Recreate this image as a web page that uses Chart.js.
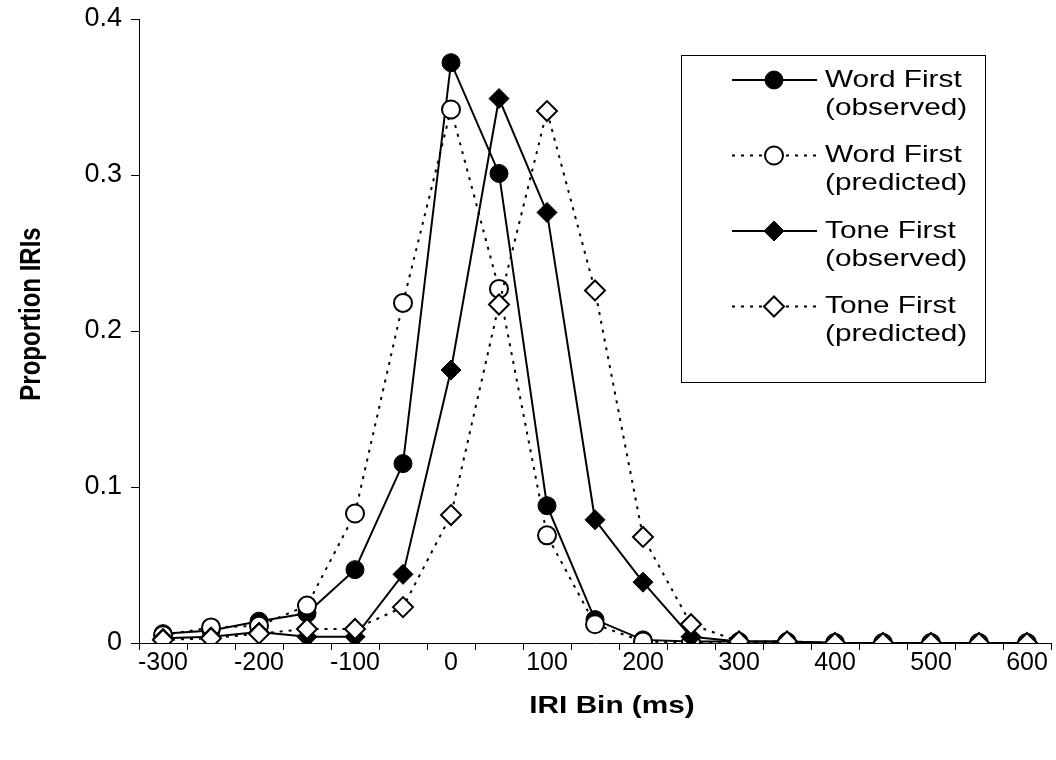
<!DOCTYPE html>
<html>
<head>
<meta charset="utf-8">
<title>IRI Bin distribution</title>
<script src="https://cdn.jsdelivr.net/npm/chart.js@4.4.1/dist/chart.umd.min.js"></script>
<style>
    html, body { margin: 0; padding: 0; background: #fff; }
    canvas { display: block; }
</style>
</head>
<body>
<canvas id="iriChart" width="1056" height="760"></canvas>
<script>
// IRI bins (ms)
const bins = ['-300', '-250', '-200', '-150', '-100', '-50', '0', '50', '100', '150',
              '200', '250', '300', '350', '400', '450', '500', '550', '600'];

const wordFirstObserved  = [0.006, 0.008, 0.014, 0.019, 0.047, 0.115, 0.372, 0.301, 0.088, 0.015,
                            0.002, 0.001, 0.001, 0.001, 0, 0, 0, 0, 0];
const wordFirstPredicted = [0.005, 0.010, 0.011, 0.024, 0.083, 0.218, 0.342, 0.227, 0.069, 0.012,
                            0.001, 0, 0, 0, 0, 0, 0, 0, 0];
const toneFirstObserved  = [0.003, 0.004, 0.007, 0.004, 0.004, 0.044, 0.175, 0.349, 0.276, 0.079,
                            0.039, 0.004, 0.001, 0.001, 0, 0, 0, 0, 0];
const toneFirstPredicted = [0.002, 0.003, 0.006, 0.009, 0.009, 0.023, 0.082, 0.217, 0.341, 0.226,
                            0.068, 0.012, 0.001, 0.001, 0, 0, 0, 0, 0];

const yTicks = [0, 0.1, 0.2, 0.3, 0.4];

const xTitle = 'IRI Bin (ms)';
const yTitle = 'Proportion IRIs';

const FONT = "'Liberation Sans', Arial, sans-serif";
const DOT = [3, 6];
const STRETCH = 1.24; // text in the original is drawn a bit wide

function series(label, data, opts) {
    return Object.assign({
        label,
        data,
        borderColor: '#000',
        borderWidth: 2,
        pointBorderColor: '#000',
        pointBorderWidth: 2,
        pointHoverRadius: 9,
        tension: 0
    }, opts);
}

// Axis titles, drawn slightly widened like the original
const axisTitles = {
    id: 'axisTitles',
    afterDraw(chart) {
        const ctx = chart.ctx;
        ctx.save();
        ctx.fillStyle = '#000';
        ctx.font = 'bold 24px ' + FONT;
        ctx.textAlign = 'center';
        ctx.textBaseline = 'middle';

        ctx.save();
        ctx.translate(612, 706);
        ctx.scale(STRETCH, 1);
        ctx.fillText(xTitle, 0, 0);
        ctx.restore();

        ctx.save();
        ctx.translate(32, 314);
        ctx.rotate(-Math.PI / 2);
        ctx.scale(1, STRETCH);
        ctx.fillText(yTitle, 0, 0);
        ctx.restore();

        ctx.restore();
    }
};

// Legend drawn as a boxed list, two text lines per entry
const legendBox = {
    id: 'legendBox',
    afterDatasetsDraw(chart) {
        const ctx = chart.ctx;
        const left = 681, top = 55, w = 304, h = 327;
        ctx.save();
        ctx.fillStyle = '#fff';
        ctx.fillRect(left, top, w, h);
        ctx.strokeStyle = '#000';
        ctx.lineWidth = 1;
        ctx.strokeRect(left + 0.5, top + 0.5, w, h);

        chart.data.datasets.forEach((ds, i) => {
            const cy = 80 + i * 75.5;
            ctx.beginPath();
            ctx.setLineDash(ds.borderDash || []);
            ctx.lineWidth = ds.borderWidth;
            ctx.strokeStyle = ds.borderColor;
            ctx.moveTo(732, cy);
            ctx.lineTo(817, cy);
            ctx.stroke();
            ctx.setLineDash([]);

            ctx.fillStyle = ds.pointBackgroundColor;
            ctx.strokeStyle = ds.pointBorderColor;
            ctx.lineWidth = ds.pointBorderWidth;
            Chart.helpers.drawPoint(ctx, {
                pointStyle: ds.pointStyle,
                radius: ds.pointRadius,
                borderWidth: ds.pointBorderWidth,
                rotation: 0
            }, 774, cy);

            const lines = ds.label.split('\n');
            ctx.fillStyle = '#000';
            ctx.font = '24px ' + FONT;
            ctx.textAlign = 'left';
            ctx.textBaseline = 'middle';
            lines.forEach((t, j) => {
                ctx.save();
                ctx.translate(825, cy + j * 28);
                ctx.scale(STRETCH, 1);
                ctx.fillText(t, 0, 0);
                ctx.restore();
            });
        });
        ctx.restore();
    }
};

new Chart(document.getElementById('iriChart'), {
    type: 'line',
    data: {
        labels: bins,
        datasets: [
            series('Word First\n(observed)', wordFirstObserved, {
                pointStyle: 'circle', pointRadius: 9, pointBackgroundColor: '#000',
                pointBorderWidth: 1, order: 4
            }),
            series('Word First\n(predicted)', wordFirstPredicted, {
                borderDash: DOT, pointStyle: 'circle', pointRadius: 9,
                pointBackgroundColor: '#fff', order: 3
            }),
            series('Tone First\n(observed)', toneFirstObserved, {
                pointStyle: 'rectRot', pointRadius: 10, pointBackgroundColor: '#000',
                pointBorderWidth: 1, order: 2
            }),
            series('Tone First\n(predicted)', toneFirstPredicted, {
                borderDash: DOT, pointStyle: 'rectRot', pointRadius: 10,
                pointBackgroundColor: '#fff', order: 1
            })
        ]
    },
    options: {
        responsive: false,
        animation: false,
        devicePixelRatio: 1,
        layout: { autoPadding: false, padding: { top: 19, right: 5, left: 0, bottom: 0 } },
        plugins: {
            legend: { display: false },
            tooltip: { enabled: false }
        },
        scales: {
            x: {
                type: 'category',
                offset: true,
                afterFit(scale) {
                    scale.height = 117;
                    scale.paddingLeft = 0;
                    scale.paddingRight = 0;
                },
                grid: {
                    offset: true,
                    drawOnChartArea: false,
                    drawTicks: true,
                    tickLength: 7,
                    color: '#000',
                    lineWidth: 1
                },
                border: { color: '#000', width: 1 },
                ticks: {
                    autoSkip: false,
                    maxRotation: 0,
                    color: '#000',
                    padding: -2,
                    font: { family: FONT, size: 25 },
                    callback(value, index) {
                        const v = Number(bins[index]);
                        return v % 100 === 0 ? bins[index] : '';
                    }
                }
            },
            y: {
                min: 0,
                max: 0.4,
                afterFit(scale) {
                    scale.width = 139;
                    scale.paddingTop = 0;
                    scale.paddingBottom = 0;
                },
                afterBuildTicks(scale) { scale.ticks = yTicks.map(v => ({ value: v })); },
                grid: {
                    drawOnChartArea: false,
                    drawTicks: true,
                    tickLength: 8,
                    color: '#000',
                    lineWidth: 1
                },
                border: { color: '#000', width: 1 },
                ticks: {
                    color: '#000',
                    padding: 9,
                    font: { family: FONT, size: 27 },
                    callback(value) { return String(Math.round(value * 10) / 10); }
                }
            }
        }
    },
    plugins: [legendBox, axisTitles]
});
</script>
</body>
</html>
